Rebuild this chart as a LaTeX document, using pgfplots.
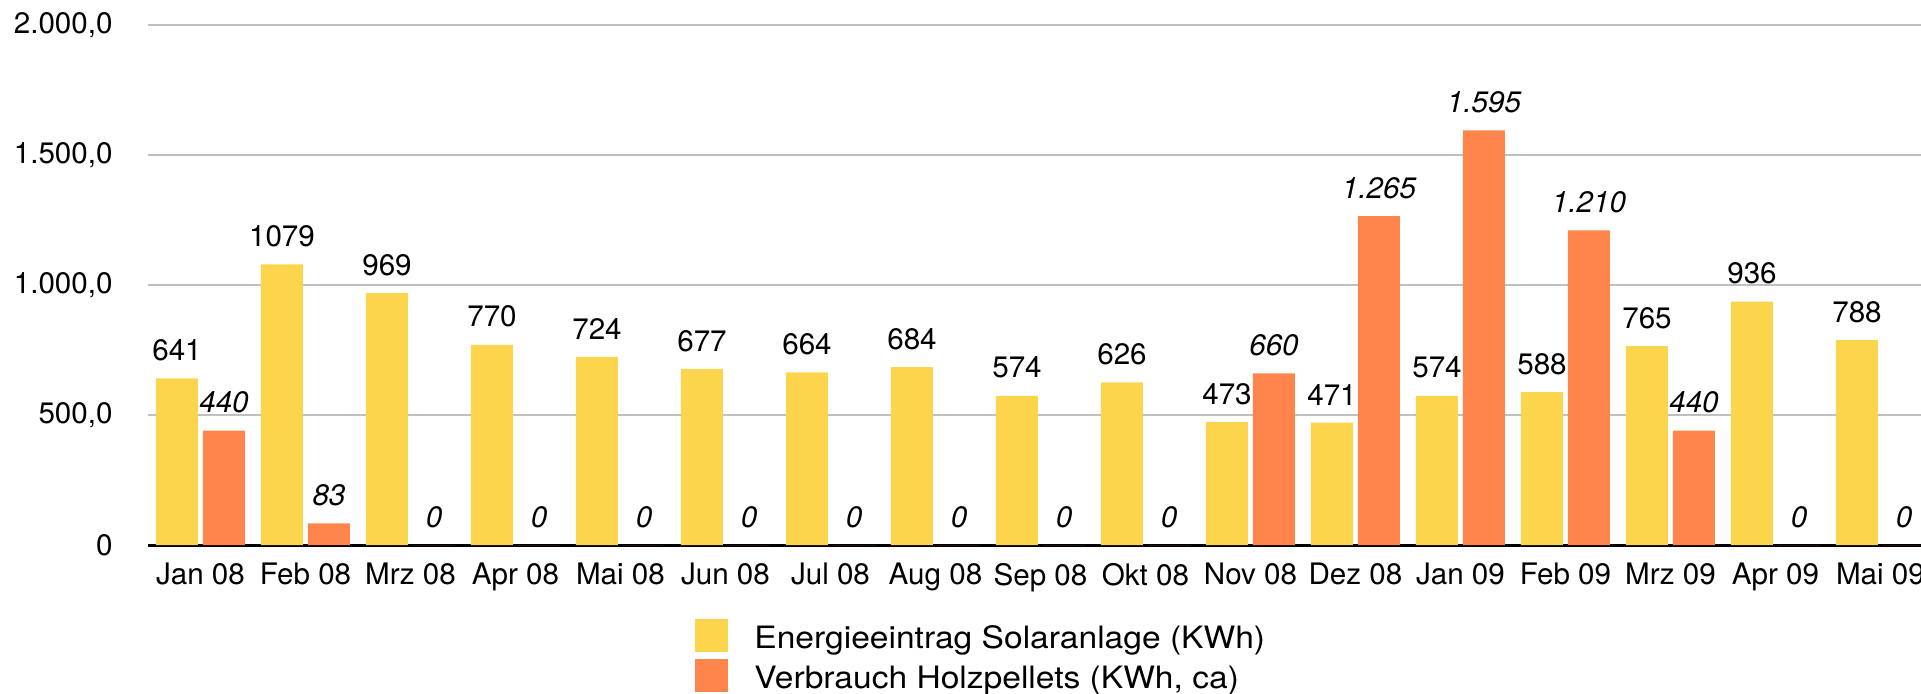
\documentclass[border=0pt]{standalone}
\usepackage{pgfplots}
\pgfplotsset{compat=1.18}
\usepackage{fontspec}
\setmainfont{TeX Gyre Heros}
\usepackage{graphicx}
\definecolor{solar}{RGB}{253,213,77}
\definecolor{pellet}{RGB}{255,133,77}
\definecolor{gridc}{RGB}{192,192,192}
\begin{document}
\begin{tikzpicture}[font=\fontsize{14.8pt}{17pt}\selectfont]
\begin{axis}[
  scale only axis, width=886.5pt, height=260pt,
  xmin=-0.5, xmax=16.386, ymin=0, ymax=2000,
  clip=false,
  ybar=2.5pt, bar width=21pt,
  xtick={0,...,16},
  xticklabels={Jan 08,Feb 08,Mrz 08,Apr 08,Mai 08,Jun 08,Jul 08,Aug 08,Sep 08,Okt 08,Nov 08,Dez 08,Jan 09,Feb 09,Mrz 09,Apr 09,Mai 09},
  ytick={0,500,1000,1500,2000},
  yticklabels={0,{500,0},{1.000,0},{1.500,0},{2.000,0}},
  major tick length=0pt,
  axis x line*=bottom, axis y line*=left,
  x axis line style={black, line width=1.5pt, -},
  y axis line style={draw=none},
  ymajorgrids, major grid style={gridc, line width=1pt},
  xticklabel style={inner sep=0pt, yshift=-9pt},
  yticklabel style={inner sep=0pt, xshift=-17.5pt},
  legend style={draw=none, fill=none, inner sep=0pt, row sep=3.5pt,
    at={(0.3085,-0.1423)}, anchor=north west,
    font=\fontsize{15.4pt}{18pt}\selectfont,
    /tikz/every odd column/.style={column sep=13pt},
    nodes={inner sep=0pt}},
  legend cell align=left,
]
\addplot[fill=solar, draw=none,
  nodes near coords={\pgfmathprintnumber[1000 sep={},assume math mode=true]{\pgfplotspointmeta}},
  every node near coord/.append style={inner sep=0pt, anchor=south, yshift=8.5pt, black, font=\fontsize{14.8pt}{17pt}\selectfont},
  legend image code/.code={\fill[solar] (0pt,-6.75pt) rectangle (16.5pt,9.75pt);}
] coordinates {(0,641) (1,1079) (2,969) (3,770) (4,724) (5,677) (6,664) (7,684) (8,574) (9,626) (10,473) (11,471) (12,574) (13,588) (14,765) (15,936) (16,788)};
\addplot[fill=pellet, draw=none,
  nodes near coords={\pgfmathprintnumber[1000 sep={.},assume math mode=true]{\pgfplotspointmeta}},
  every node near coord/.append style={inner sep=0pt, anchor=south, yshift=8.5pt, black, font=\fontsize{14.8pt}{17pt}\selectfont\itshape},
  legend image code/.code={\fill[pellet] (0pt,-6.75pt) rectangle (16.5pt,9.75pt);}
] coordinates {(0,440) (1,83) (2,0) (3,0) (4,0) (5,0) (6,0) (7,0) (8,0) (9,0) (10,660) (11,1265) (12,1595) (13,1210) (14,440) (15,0) (16,0)};
\addlegendentry{\scalebox{1.09}[1]{Energieeintrag Solaranlage (KWh)}}
\addlegendentry{\scalebox{1.09}[1]{Verbrauch Holzpellets (KWh, ca)}}
\end{axis}
\pgfresetboundingbox
\path[use as bounding box] (-74pt,-74pt) rectangle (886.5pt,272.5pt);
\end{tikzpicture}
\end{document}
